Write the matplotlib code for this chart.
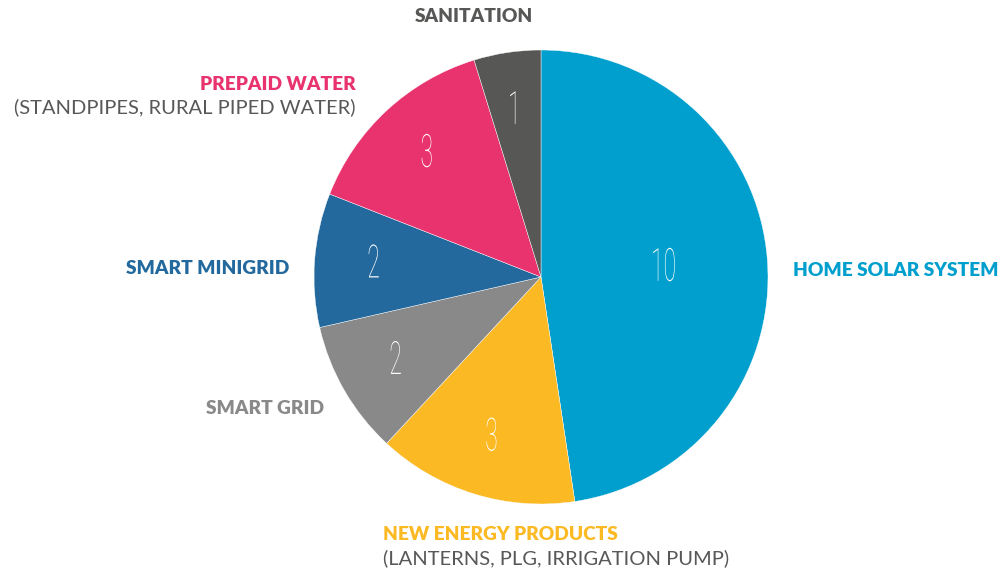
import matplotlib
matplotlib.use("Agg")
from matplotlib import pyplot as plt
from matplotlib.transforms import Affine2D
from matplotlib.patheffects import AbstractPathEffect
import numpy as np

# Data
categories = ["HOME SOLAR SYSTEM", "NEW ENERGY PRODUCTS", "SMART GRID",
              "SMART MINIGRID", "PREPAID WATER", "SANITATION"]
subtitles = ["", "(LANTERNS, PLG, IRRIGATION PUMP)", "", "",
             "(STANDPIPES, RURAL PIPED WATER)", ""]
counts = [10, 3, 2, 2, 3, 1]
colors = ["#009fcd", "#fbb923", "#898989", "#23699e", "#e8336e", "#575756"]

W, H = 1003, 573


class Squeeze(AbstractPathEffect):
    """narrow the glyphs horizontally around their center (fake condensed font)"""
    def __init__(self, sx=0.55):
        super().__init__()
        self.sx = sx

    def draw_path(self, renderer, gc, tpath, affine, rgbFace=None):
        ext = tpath.get_extents()
        cx = (ext.x0 + ext.x1) / 2
        pre = Affine2D().translate(-cx, 0).scale(self.sx, 1).translate(cx, 0)
        renderer.draw_path(gc, tpath, pre + affine, rgbFace)


def px(x, y):
    return x / W, 1 - y / H


fig = plt.figure(figsize=(W / 100, H / 100), dpi=100)
cx, cy, r = 541, 277, 227
ax = fig.add_axes([(cx - r) / W, (H - cy - r) / H, 2 * r / W, 2 * r / H])
wedges, _ = ax.pie(counts, colors=colors, startangle=90, counterclock=False,
                   radius=1, wedgeprops=dict(edgecolor="white", linewidth=0.3))
ax.set_xlim(-1, 1)
ax.set_ylim(-1, 1)
ax.set_aspect("equal")
ax.axis("off")

for i, w in enumerate(wedges):
    ang = np.deg2rad((w.theta1 + w.theta2) / 2)
    d = 0.54 if i == 0 else 0.74
    ax.text(d * np.cos(ang), d * np.sin(ang), str(counts[i]), ha="center", va="center",
            color="white", fontsize=33, family="Roboto", weight="light",
            path_effects=[Squeeze(0.5)])

bold = dict(family="Lato", weight="heavy", fontsize=13.8)
light = dict(family="Lato", fontsize=14.5, color="#58585a")

# category labels around the pie
fig.text(*px(793, 271), categories[0], ha="left", va="center", color=colors[0], **bold)
fig.text(*px(383, 535), categories[1], ha="left", va="center", color=colors[1], **bold)
fig.text(*px(383, 558), subtitles[1], ha="left", va="center", **light)
fig.text(*px(324, 408), categories[2], ha="right", va="center", color=colors[2], **bold)
fig.text(*px(289, 268), categories[3], ha="right", va="center", color=colors[3], **bold)
fig.text(*px(356, 85), categories[4], ha="right", va="center", color=colors[4], **bold)
fig.text(*px(356, 107), subtitles[4], ha="right", va="center", **light)
fig.text(*px(474, 17), categories[5], ha="center", va="center", color=colors[5], **bold)

fig.savefig("out.png", dpi=100)
